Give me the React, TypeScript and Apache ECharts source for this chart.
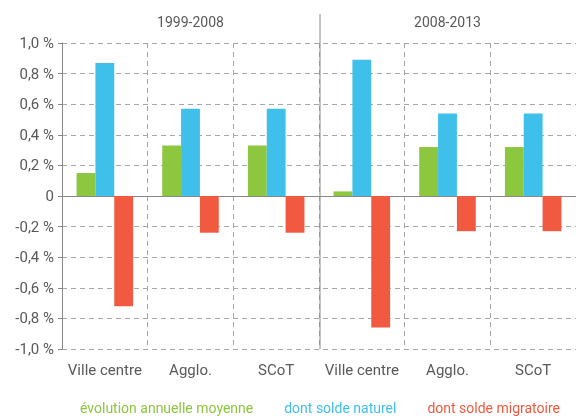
import React, { useEffect, useRef } from "react";
import * as echarts from "echarts";

const categories = ["Ville centre", "Agglo.", "SCoT", "Ville centre ", "Agglo. ", "SCoT "];
const periods = ["1999-2008", "2008-2013"];
const evolution = [0.15, 0.33, 0.33, 0.03, 0.32, 0.32];
const soldeNaturel = [0.87, 0.57, 0.57, 0.89, 0.54, 0.54];
const soldeMigratoire = [-0.72, -0.24, -0.24, -0.86, -0.23, -0.23];
const seriesNames = ["évolution annuelle moyenne", "dont solde naturel", "dont solde migratoire"];
const colors = ["#8dc63f", "#3fc0ea", "#f15a40"];

const W = 576;
const H = 416;
const GRID_LEFT = 62;
const GRID_RIGHT = -2;
const GRID_TOP = 43;
const GRID_BOTTOM = 67;
const FONT = "Roboto, 'Noto Sans', sans-serif";
const TEXT = "#58595b";

export default function App() {
  const ref = useRef<HTMLDivElement>(null);
  useEffect(() => {
    if (!ref.current) return;
    const chart = echarts.init(ref.current, null, { renderer: "svg" });
    const sepX = GRID_LEFT + (W - GRID_LEFT - GRID_RIGHT) / 2;
    chart.setOption({
      animation: false,
      textStyle: { fontFamily: FONT, color: TEXT },
      grid: { left: GRID_LEFT, right: GRID_RIGHT, top: GRID_TOP, bottom: GRID_BOTTOM },
      legend: {
        bottom: -4,
        left: 70,
        icon: "rect",
        itemWidth: 0,
        itemHeight: 0,
        itemGap: 26,
        selectedMode: false,
        textStyle: { fontFamily: FONT, fontSize: 14 },
        data: seriesNames.map((n, i) => ({ name: n, textStyle: { color: colors[i] } })),
      },
      xAxis: [
        {
          type: "category",
          data: categories,
          axisLine: { onZero: true, lineStyle: { color: "#888", width: 1 } },
          axisTick: { show: false },
          axisLabel: { interval: 0, color: TEXT, fontSize: 15, margin: 13, fontFamily: FONT, formatter: (v: string) => v.trim() },
          splitLine: { show: true, interval: 0, lineStyle: { color: "#a6a6a6", type: [5, 4] } },
        },
        {
          type: "category",
          position: "top",
          data: periods,
          axisLine: { show: false },
          axisTick: { show: false },
          axisLabel: { interval: 0, color: TEXT, fontSize: 14, margin: 14, fontFamily: FONT },
          splitLine: { show: false },
        },
      ],
      yAxis: {
        type: "value",
        min: -1,
        max: 1,
        interval: 0.2,
        axisLine: { show: true, lineStyle: { color: "#888" } },
        axisTick: { show: true, length: 4, lineStyle: { color: "#888" } },
        axisLabel: {
          color: TEXT,
          fontSize: 15,
          margin: 8,
          fontFamily: FONT,
          formatter: (v: number) => (Math.abs(v) < 1e-9 ? "0" : v.toFixed(1).replace(".", ",") + " %"),
        },
        splitLine: { show: true, lineStyle: { color: "#a6a6a6", type: [5, 4] } },
      },
      series: [evolution, soldeNaturel, soldeMigratoire].map((d, i) => ({
        name: seriesNames[i],
        type: "bar",
        data: d,
        itemStyle: { color: colors[i] },
        barGap: "0%",
        barCategoryGap: "34%",
      })),
      graphic: [
        {
          type: "line",
          shape: { x1: sepX, y1: 14, x2: sepX, y2: H - GRID_BOTTOM },
          style: { stroke: "#888", lineWidth: 1 },
          z: 10,
        },
      ],
    });
    return () => chart.dispose();
  }, []);
  return <div ref={ref} style={{ position: "fixed", left: 0, top: 0, width: W, height: H }} />;
}
